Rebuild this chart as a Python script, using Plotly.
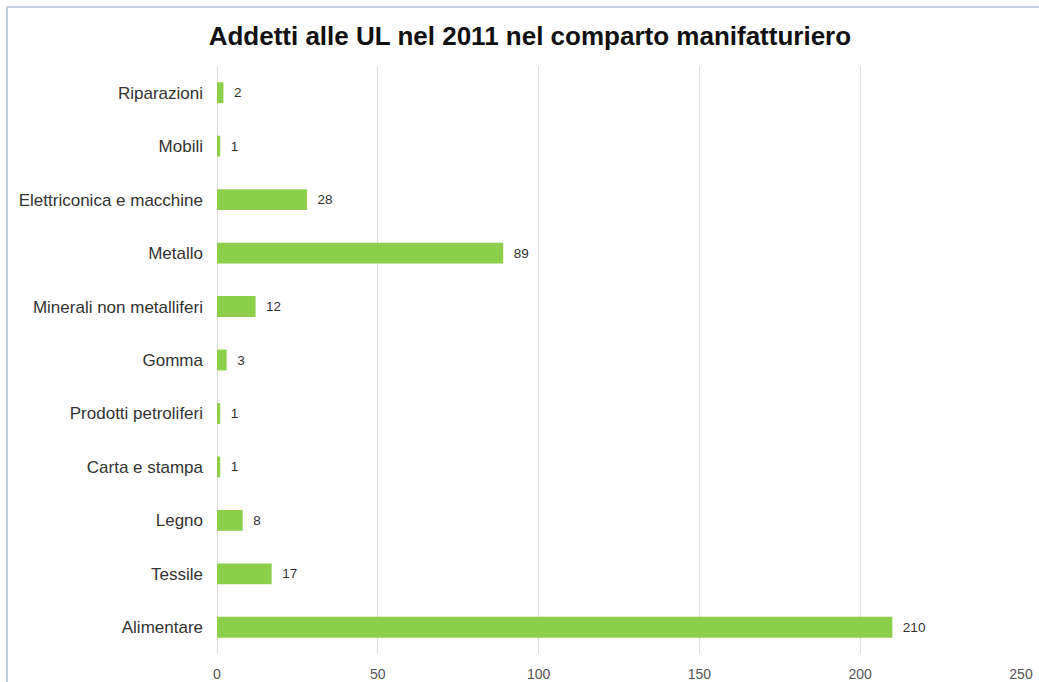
import plotly.graph_objects as go

# Addetti per divisione del comparto manifatturiero (2011)
categorie = [
    "Alimentare", "Tessile", "Legno", "Carta e stampa", "Prodotti petroliferi",
    "Gomma", "Minerali non metalliferi", "Metallo", "Elettriconica e macchine",
    "Mobili", "Riparazioni",
]
addetti = [210, 17, 8, 1, 1, 3, 12, 89, 28, 1, 2]
tick_valori = [0, 50, 100, 150, 200, 250]

titolo = "Addetti alle UL nel 2011 nel comparto manifatturiero"

W, H = 1039, 682
L, R, T, B = 217, 18, 66, 28
pw, ph = W - L - R, H - T - B

def px_x(p):
    return (p - L) / pw

def px_y(p):
    return (H - B - p) / ph

fig = go.Figure(
    go.Bar(
        x=addetti,
        y=categorie,
        orientation="h",
        width=0.39,
        marker=dict(color="#8dcf4a", line=dict(width=0)),
        text=[f"  {v}" for v in addetti],
        textposition="outside",
        textfont=dict(family="Arial, Liberation Sans, sans-serif", size=13.5, color="#333333"),
        cliponaxis=False,
        hoverinfo="x+y",
    )
)

fig.update_layout(
    width=W,
    height=H,
    margin=dict(l=L, r=R, t=T, b=B, autoexpand=False),
    paper_bgcolor="#ffffff",
    plot_bgcolor="#ffffff",
    showlegend=False,
    title=dict(
        text=f"<b>{titolo}</b>",
        x=0.51,
        xanchor="center",
        y=1 - 36 / H,
        yanchor="middle",
        font=dict(family="Arial, Liberation Sans, sans-serif", size=26, color="#111111"),
    ),
    font=dict(family="Arial, Liberation Sans, sans-serif", size=13, color="#333333"),
    xaxis=dict(
        range=[0, 250],
        tickvals=tick_valori,
        automargin=False,
        showgrid=True,
        gridcolor="#dcdcdc",
        gridwidth=1,
        zeroline=True,
        zerolinecolor="#dcdcdc",
        zerolinewidth=1,
        showline=False,
        ticks="",
        ticklabelstandoff=10,
        tickfont=dict(size=14, color="#555555"),
        fixedrange=True,
    ),
    yaxis=dict(
        categoryorder="array",
        categoryarray=categorie,
        automargin=False,
        showgrid=False,
        zeroline=False,
        showline=False,
        ticks="",
        ticklabelstandoff=13,
        tickfont=dict(size=17, color="#333333"),
        fixedrange=True,
    ),
    shapes=[
        # cornice superiore e sinistra
        dict(type="line", xref="paper", yref="paper",
             x0=px_x(7), x1=px_x(W), y0=px_y(7), y1=px_y(7),
             line=dict(color="#c3cfe0", width=2), layer="below"),
        dict(type="line", xref="paper", yref="paper",
             x0=px_x(7), x1=px_x(7), y0=px_y(7), y1=px_y(H),
             line=dict(color="#c3cfe0", width=2), layer="below"),
    ],
)

fig.write_html("out.html")
